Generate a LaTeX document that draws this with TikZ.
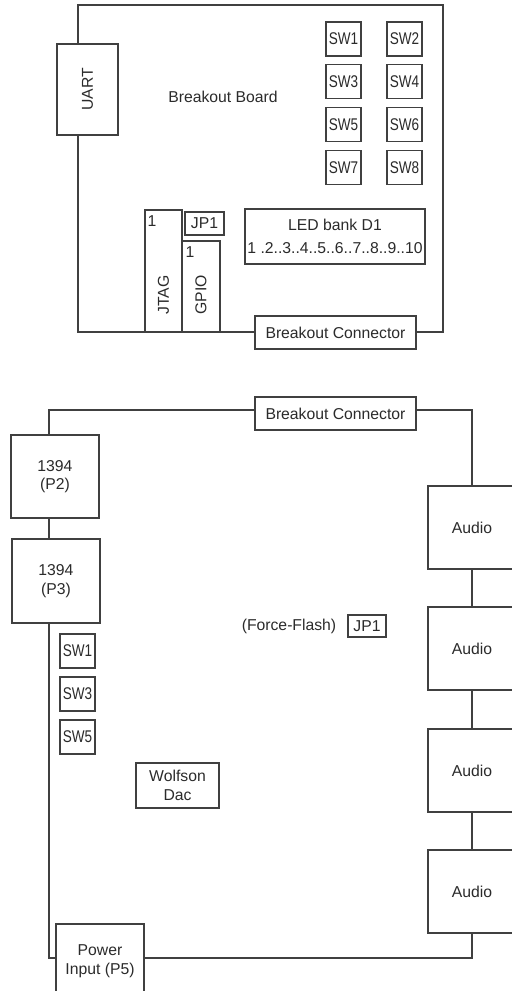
\documentclass[tikz,border=0pt]{standalone}
\usepackage{fontspec}
\setmainfont{Liberation Sans}
\usepackage{graphicx}
\usetikzlibrary{backgrounds}
\definecolor{ln}{HTML}{404040}
\definecolor{tx}{HTML}{2B2B2B}
\newcommand\fs{\fontsize{15.8}{18.5}\selectfont}
\newcommand\swt[1]{{\fontsize{17}{18}\selectfont\scalebox{0.8}[1]{#1}}}
\begin{document}
\begin{tikzpicture}[x=1bp,y=-1bp,
  box/.style={draw=ln, line width=1.2bp, fill=white, inner sep=0pt, outer sep=0pt, text=tx, font=\fs, align=center},
  swbox/.style={box, minimum width=35bp, minimum height=34bp},
  audio/.style={box, minimum width=88bp, minimum height=83bp},
  lbl/.style={inner sep=0pt, outer sep=0pt, text=tx, font=\fs},
  board/.style={draw=ln, line width=1.2bp}]
\useasboundingbox (0,0) rectangle (512,991);

% ---------- Breakout board ----------
\node[box, minimum width=61bp, minimum height=91bp] (uart) at (87.5,89.5) {\rotatebox{90}{UART}};
\node[lbl] (bbtitle) at (223,96.5) {Breakout Board};
\node[swbox] (sw1) at (343.5,39) {\swt{SW1}};
\node[swbox] (sw2) at (404.5,39) {\swt{SW2}};
\node[swbox] (sw3) at (343.5,81.5) {\swt{SW3}};
\node[swbox] (sw4) at (404.5,81.5) {\swt{SW4}};
\node[swbox] (sw5) at (343.5,124.5) {\swt{SW5}};
\node[swbox] (sw6) at (404.5,124.5) {\swt{SW6}};
\node[swbox] (sw7) at (343.5,167.5) {\swt{SW7}};
\node[swbox] (sw8) at (404.5,167.5) {\swt{SW8}};
\node[box, minimum width=37bp, minimum height=122bp] (jtag) at (163.5,271) {};
\node[lbl] (jtagtxt) at (163.5,295) {\rotatebox{90}{JTAG}};
\node[lbl] (jtag1) at (152,221) {1};
\node[box, minimum width=39bp, minimum height=23bp] (jp1a) at (204.5,223.5) {JP1};
\node[box, minimum width=38bp, minimum height=91bp] (gpio) at (201,286.5) {};
\node[lbl] (gpiotxt) at (201,295) {\rotatebox{90}{GPIO}};
\node[lbl] (gpio1) at (190,252) {1};
\node[box, minimum width=180bp, minimum height=55bp, font=\fontsize{15.8}{23.5}\selectfont] (led) at (335,236.5) {LED bank D1\\1 .2..3..4..5..6..7..8..9..10};
\node[box, minimum width=161bp, minimum height=33bp] (bc1) at (335.5,332.5) {Breakout Connector};

% ---------- Main board ----------
\node[box, minimum width=161bp, minimum height=33bp] (bc2) at (335.5,413.5) {Breakout Connector};
\node[box, minimum width=88bp, minimum height=83bp] (p2) at (55,476.5) {1394\\(P2)};
\node[box, minimum width=88bp, minimum height=84bp] (p3) at (56,581) {1394\\(P3)};
\node[audio] (au1) at (472,527.5) {Audio};
\node[audio] (au2) at (472,648.5) {Audio};
\node[audio] (au3) at (472,770.5) {Audio};
\node[audio] (au4) at (472,891.5) {Audio};
\node[lbl] (ff) at (289,626) {(Force-Flash)};
\node[box, minimum width=38bp, minimum height=22bp] (jp1b) at (367,626) {JP1};
\node[swbox] (bsw1) at (77.5,651) {\swt{SW1}};
\node[swbox] (bsw3) at (77.5,694) {\swt{SW3}};
\node[swbox] (bsw5) at (77.5,737) {\swt{SW5}};
\node[box, minimum width=83bp, minimum height=45bp] (dac) at (177.5,785.5) {Wolfson\\Dac};
\node[box, minimum width=88bp, minimum height=74bp] (pwr) at (100,961) {Power\\Input (P5)};

% ---------- Board outlines (behind) ----------
\begin{scope}[on background layer]
  \coordinate (btl) at (78,5);
  \coordinate (bbr) at (443,332);
  \draw[board] (btl) rectangle (bbr);
  \coordinate (mtl) at (49,410);
  \coordinate (mbr) at (472,958);
  \draw[board] (mtl) rectangle (mbr);
\end{scope}
\end{tikzpicture}
\end{document}
